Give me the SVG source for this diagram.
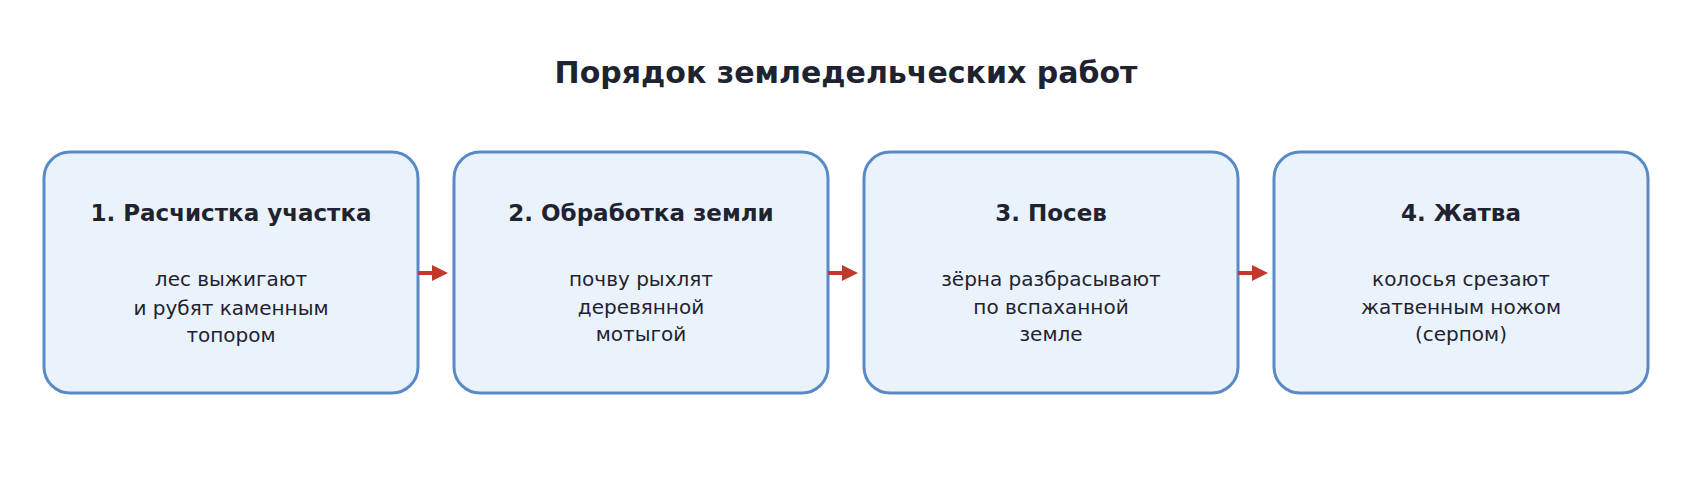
<svg xmlns="http://www.w3.org/2000/svg" width="1692" height="492" viewBox="0 0 1692 492">
<style>
.box{fill:#eaf2fc;stroke:#5a8ac6;stroke-width:3}
text{font-family:"DejaVu Sans",sans-serif;fill:#1f2330;text-anchor:middle}
.t{font-size:30px;font-weight:bold}
.h{font-size:23px;font-weight:bold}
.b{font-size:20px}
.c{stroke:#c0392b;stroke-width:4;fill:none}
</style>
<defs><marker id="a" markerWidth="4" markerHeight="4" refX="3" refY="2" orient="auto" markerUnits="strokeWidth"><path d="M0,0 L4,2 L0,4 Z" fill="#c0392b"/></marker></defs>
<rect width="1692" height="492" fill="#fff"/>
<text class="t" x="846" y="83">Порядок земледельческих работ</text>
<g id="n1"><rect class="box" x="44" y="152" width="374" height="241" rx="26"/><text class="h" x="231" y="221">1. Расчистка участка</text><text class="b" x="231" y="286">лес выжигают</text><text class="b" x="231" y="315">и рубят каменным</text><text class="b" x="231" y="342">топором</text></g>
<g id="n2"><rect class="box" x="454" y="152" width="374" height="241" rx="26"/><text class="h" x="641" y="221">2. Обработка земли</text><text class="b" x="641" y="286">почву рыхлят</text><text class="b" x="641" y="314">деревянной</text><text class="b" x="641" y="341">мотыгой</text></g>
<g id="n3"><rect class="box" x="864" y="152" width="374" height="241" rx="26"/><text class="h" x="1051" y="221">3. Посев</text><text class="b" x="1051" y="286">зёрна разбрасывают</text><text class="b" x="1051" y="314">по вспаханной</text><text class="b" x="1051" y="341">земле</text></g>
<g id="n4"><rect class="box" x="1274" y="152" width="374" height="241" rx="26"/><text class="h" x="1461" y="221">4. Жатва</text><text class="b" x="1461" y="286">колосья срезают</text><text class="b" x="1461" y="314">жатвенным ножом</text><text class="b" x="1461" y="341">(серпом)</text></g>
<g id="connectors">
<path class="c" d="M418,273 H444" marker-end="url(#a)"/>
<path class="c" d="M828,273 H854" marker-end="url(#a)"/>
<path class="c" d="M1238,273 H1264" marker-end="url(#a)"/>
</g>
</svg>
